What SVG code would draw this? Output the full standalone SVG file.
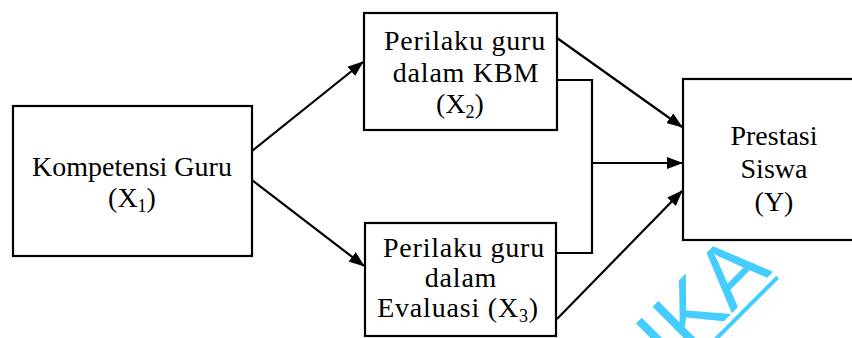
<svg xmlns="http://www.w3.org/2000/svg" width="852" height="338" viewBox="0 0 852 338">
<defs>
<style>
.box{fill:#fff;stroke:#000;stroke-width:2.2}
.t{font-family:"Liberation Serif","Times New Roman",serif;font-size:28px;fill:#000;text-anchor:middle}
.w{letter-spacing:0.8px}
.c{fill:none;stroke:#000;stroke-width:2.2}
.wm{font-family:"Liberation Sans",Arial,sans-serif;font-size:88px;fill:#45CDFF}
</style>
<marker id="ah" markerUnits="userSpaceOnUse" markerWidth="16" markerHeight="12" refX="15" refY="6" orient="auto">
<path d="M0,0 L16,6 L0,12 z" fill="#000"/>
</marker>
</defs>
<rect width="852" height="338" fill="#fff"/>
<g id="connectors">
<line class="c" x1="252" y1="151" x2="363" y2="62" marker-end="url(#ah)"/>
<line class="c" x1="252" y1="180" x2="364" y2="266" marker-end="url(#ah)"/>
<line class="c" x1="557" y1="38" x2="682" y2="127" marker-end="url(#ah)"/>
<line class="c" x1="557" y1="319" x2="682" y2="191" marker-end="url(#ah)"/>
<polyline class="c" points="557,80 592,80 592,253 556,253"/>
<line class="c" x1="592" y1="163" x2="682" y2="163" marker-end="url(#ah)"/>
</g>
<g id="x1">
<rect class="box" x="13" y="106" width="239" height="150"/>
<text class="t" x="132" y="176">Kompetensi Guru</text>
<text class="t" x="132" y="207">(X<tspan font-size="18" dy="5">1</tspan><tspan dy="-5">)</tspan></text>
</g>
<g id="x2">
<rect class="box" x="364" y="13" width="193" height="117"/>
<text class="t w" x="465" y="50">Perilaku guru</text>
<text class="t w" x="466" y="82">dalam KBM</text>
<text class="t" x="460" y="113">(X<tspan font-size="18" dy="5">2</tspan><tspan dy="-5">)</tspan></text>
</g>
<g id="x3">
<rect class="box" x="365" y="223" width="191" height="113"/>
<text class="t w" x="464" y="257">Perilaku guru</text>
<text class="t w" x="461" y="287">dalam</text>
<text class="t w" x="458" y="317">Evaluasi (X<tspan font-size="18" dy="5">3</tspan><tspan dy="-5">)</tspan></text>
</g>
<g id="y">
<rect class="box" x="683" y="79" width="180" height="161"/>
<text class="t" x="774" y="145">Prestasi</text>
<text class="t" x="774" y="178">Siswa</text>
<text class="t" x="774" y="211">(Y)</text>
</g>
<g id="watermark" transform="translate(673,372) rotate(-45)">
<text class="wm" x="0" y="0">IKA</text>
<rect x="-40" y="5" width="181" height="4" fill="#45CDFF"/>
</g>
</svg>
